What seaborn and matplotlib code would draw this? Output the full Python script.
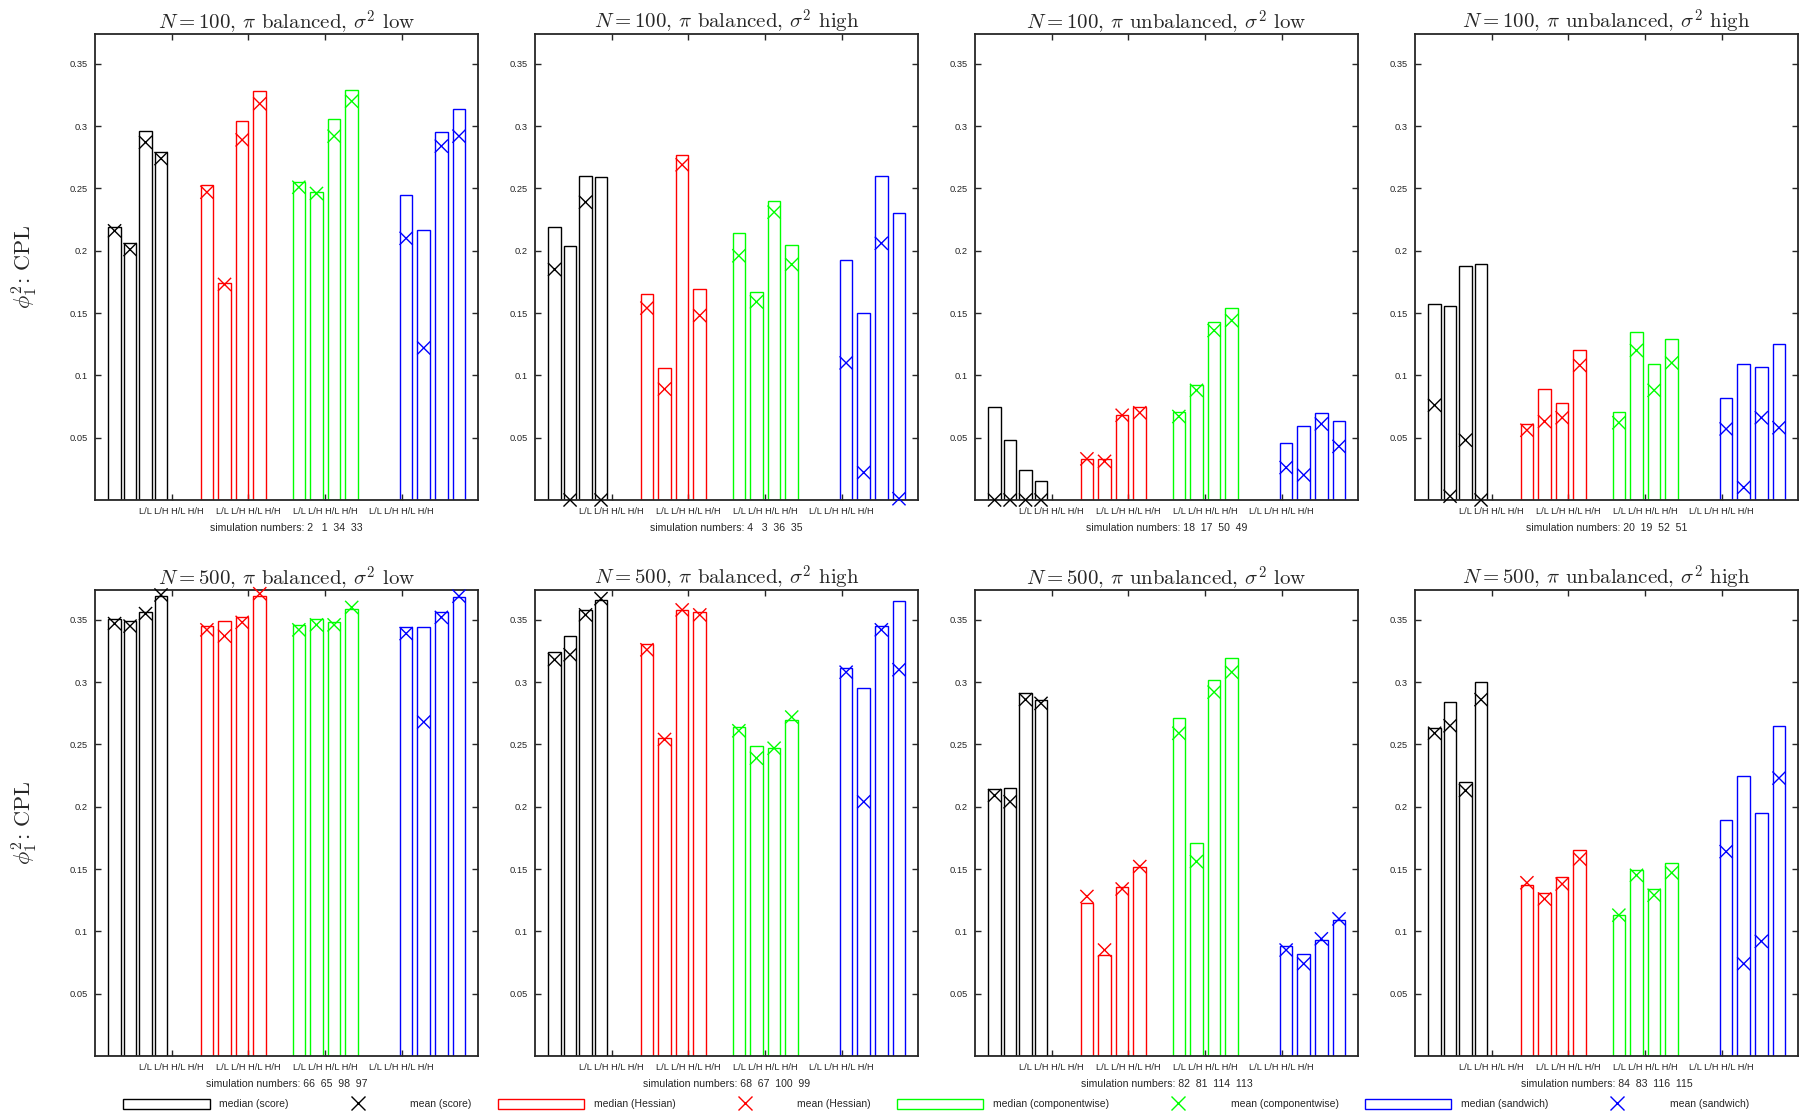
import numpy as np
import pandas as pd
import matplotlib
matplotlib.use("Agg")
import matplotlib.pyplot as plt
from matplotlib.patches import Patch
from matplotlib.lines import Line2D
from matplotlib.ticker import FormatStrFormatter
import seaborn as sns

sns.set_style("ticks")
plt.rcParams['font.family'] = ['Liberation Sans', 'DejaVu Sans']
plt.rcParams['mathtext.fontset'] = 'cm'

# panels: N, pi, sigma^2
titles = [
    r"$N = 100$, $\pi$ balanced, $\sigma^2$ low",
    r"$N = 100$, $\pi$ balanced, $\sigma^2$ high",
    r"$N = 100$, $\pi$ unbalanced, $\sigma^2$ low",
    r"$N = 100$, $\pi$ unbalanced, $\sigma^2$ high",
    r"$N = 500$, $\pi$ balanced, $\sigma^2$ low",
    r"$N = 500$, $\pi$ balanced, $\sigma^2$ high",
    r"$N = 500$, $\pi$ unbalanced, $\sigma^2$ low",
    r"$N = 500$, $\pi$ unbalanced, $\sigma^2$ high",
]
sim_numbers = ["2   1  34  33", "4   3  36  35", "18  17  50  49", "20  19  52  51",
               "66  65  98  97", "68  67  100  99", "82  81  114  113", "84  83  116  115"]
settings = ["L/L", "L/H", "H/L", "H/H"]
methods = ["score", "Hessian", "componentwise", "sandwich"]
colors = ["#000000", "#ff0000", "#00ff00", "#0000ff"]

median_score = [[0.219, 0.206, 0.296, 0.279], [0.219, 0.204, 0.260, 0.259],
                [0.075, 0.048, 0.024, 0.015], [0.157, 0.156, 0.188, 0.189],
                [0.351, 0.349, 0.356, 0.369], [0.324, 0.337, 0.358, 0.366],
                [0.214, 0.215, 0.291, 0.286], [0.263, 0.284, 0.220, 0.300]]
mean_score = [[0.216, 0.201, 0.287, 0.274], [0.185, 0.0, 0.239, 0.0],
              [0.0, 0.0, 0.0, 0.0], [0.076, 0.003, 0.048, 0.0],
              [0.347, 0.345, 0.355, 0.370], [0.318, 0.322, 0.354, 0.367],
              [0.209, 0.204, 0.286, 0.283], [0.259, 0.265, 0.213, 0.286]]
median_hessian = [[0.253, 0.174, 0.304, 0.328], [0.165, 0.106, 0.277, 0.169],
                  [0.033, 0.033, 0.068, 0.075], [0.061, 0.089, 0.078, 0.120],
                  [0.345, 0.349, 0.352, 0.369], [0.331, 0.255, 0.358, 0.356],
                  [0.123, 0.081, 0.136, 0.152], [0.137, 0.131, 0.144, 0.165]]
mean_hessian = [[0.247, 0.173, 0.289, 0.318], [0.154, 0.089, 0.269, 0.148],
                [0.033, 0.031, 0.068, 0.070], [0.056, 0.063, 0.066, 0.108],
                [0.342, 0.337, 0.348, 0.371], [0.326, 0.254, 0.358, 0.354],
                [0.128, 0.085, 0.134, 0.152], [0.139, 0.126, 0.138, 0.158]]
median_comp = [[0.255, 0.247, 0.306, 0.329], [0.214, 0.167, 0.240, 0.205],
               [0.071, 0.092, 0.143, 0.154], [0.071, 0.135, 0.109, 0.129],
               [0.346, 0.351, 0.348, 0.359], [0.264, 0.249, 0.247, 0.270],
               [0.271, 0.171, 0.302, 0.319], [0.113, 0.149, 0.134, 0.155]]
mean_comp = [[0.251, 0.246, 0.292, 0.320], [0.196, 0.159, 0.231, 0.189],
             [0.067, 0.088, 0.136, 0.144], [0.062, 0.120, 0.088, 0.110],
             [0.342, 0.346, 0.346, 0.360], [0.261, 0.239, 0.247, 0.272],
             [0.259, 0.156, 0.292, 0.308], [0.113, 0.145, 0.129, 0.147]]
median_sand = [[0.245, 0.217, 0.295, 0.314], [0.193, 0.150, 0.260, 0.230],
               [0.046, 0.059, 0.070, 0.063], [0.082, 0.109, 0.107, 0.125],
               [0.344, 0.344, 0.356, 0.368], [0.311, 0.295, 0.345, 0.365],
               [0.088, 0.082, 0.093, 0.109], [0.189, 0.225, 0.195, 0.265]]
mean_sand = [[0.210, 0.122, 0.284, 0.292], [0.110, 0.022, 0.206, 0.001],
             [0.026, 0.020, 0.061, 0.043], [0.057, 0.010, 0.066, 0.058],
             [0.339, 0.268, 0.352, 0.369], [0.308, 0.204, 0.342, 0.310],
             [0.085, 0.074, 0.094, 0.110], [0.164, 0.074, 0.092, 0.223]]

medians = [median_score, median_hessian, median_comp, median_sand]
means = [mean_score, mean_hessian, mean_comp, mean_sand]

# bar layout along the x axis (axis runs 0..1)
group_start = [0.051, 0.292, 0.532, 0.812]
group_step = [0.0404, 0.046, 0.046, 0.046]

fig = plt.figure(figsize=(18.07, 11.18), dpi=100)
lefts = [0.0526, 0.2961, 0.5396, 0.7831]
bottoms = [0.5528, 0.0555]
pal = dict(zip(methods, colors))

for p in range(8):
    row, col = divmod(p, 4)
    ax = fig.add_axes([lefts[col], bottoms[row], 0.212, 0.4168])
    rows = []
    for g, m in enumerate(methods):
        for i, s in enumerate(settings):
            rows.append({"pos": group_start[g] + i * group_step[g], "method": m,
                         "setting": s, "median": medians[g][p][i], "mean": means[g][p][i]})
    df = pd.DataFrame(rows)
    sns.barplot(data=df, x="pos", y="median", hue="method", palette=pal, fill=False,
                native_scale=True, width=0.817, linewidth=1.0, errorbar=None,
                legend=False, ax=ax)
    sns.scatterplot(data=df, x="pos", y="mean", hue="method", palette=pal, marker="x",
                    s=90, linewidth=1.0, legend=False, ax=ax, clip_on=False, zorder=5)
    ax.set_xlim(0, 1)
    ax.set_ylim(0, 0.374)
    ax.set_xticks([0.2, 0.4, 0.6, 0.8])
    ax.set_xticklabels([" ".join(settings)] * 4)
    ax.set_yticks([0.05, 0.1, 0.15, 0.2, 0.25, 0.3, 0.35])
    ax.yaxis.set_major_formatter(FormatStrFormatter('%g'))
    ax.tick_params(direction="in", length=4, width=1, labelsize=6.7, pad=5,
                   top=True, right=True)
    for sp in ax.spines.values():
        sp.set_linewidth(1.3)
        sp.set_visible(True)
    ax.set_xlabel("simulation numbers: " + sim_numbers[p], fontsize=7.6, labelpad=5)
    ax.set_ylabel("")
    ax.set_title(titles[p], fontsize=15, fontfamily="cmr10", pad=4)
    if col == 0:
        ax.set_ylabel(r"$\phi_1^2$: CPL", fontsize=16, fontfamily="cmr10", labelpad=22)

handles, labels = [], []
for m, c in zip(methods, colors):
    handles.append(Patch(facecolor="white", edgecolor=c, linewidth=1.0))
    labels.append("median (%s)" % m)
    handles.append(Line2D([], [], marker="x", linestyle="", color=c, markersize=10, markeredgewidth=1.0))
    labels.append("mean (%s)" % m)
fig.legend(handles, labels, ncol=8, loc="center", bbox_to_anchor=(0.518, 0.0125),
           frameon=False, fontsize=7.5, handlelength=8.3, handleheight=1.1,
           columnspacing=2.5, handletextpad=0.9)

fig.savefig("out.png", dpi=100)
